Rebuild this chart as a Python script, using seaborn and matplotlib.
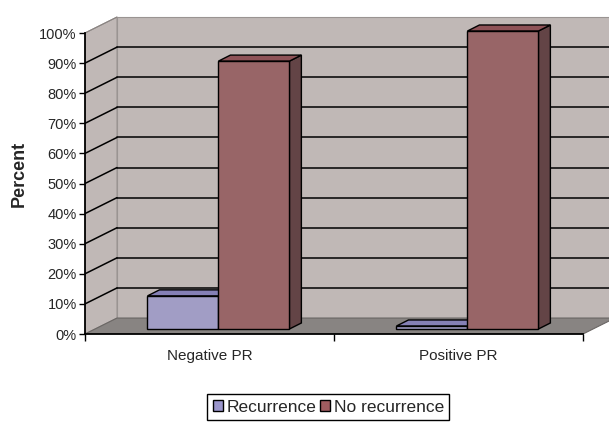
import matplotlib
matplotlib.use("Agg")
import matplotlib.pyplot as plt
import seaborn as sns
import pandas as pd
from matplotlib.patches import Polygon, Patch

# ---- data ----
categories = ["Negative PR", "Positive PR"]
series = ["Recurrence", "No recurrence"]
recurrence = [11, 1]
no_recurrence = [89, 99]
y_ticks = [0, 10, 20, 30, 40, 50, 60, 70, 80, 90, 100]
y_tick_labels = [f"{v}%" for v in y_ticks]

df = pd.DataFrame({
    "PR": categories * 2,
    "Outcome": [series[0]] * 2 + [series[1]] * 2,
    "Percent": recurrence + no_recurrence,
})

front_colors = {"Recurrence": "#9B96CC", "No recurrence": "#A05C60"}
top_colors = {"Recurrence": "#8580B6", "No recurrence": "#8E5257"}
side_colors = {"Recurrence": "#6E6A96", "No recurrence": "#634446"}

sns.set_theme(style="white")
plt.rcParams["font.family"] = ["Liberation Sans", "DejaVu Sans"]

fig = plt.figure(figsize=(6.09, 4.26), dpi=100)
ax = fig.add_axes([85 / 609, 1 - 334 / 426, 1 - 85 / 609, 320 / 426])

# depth geometry (data units)
wdx, wdy = 0.1285, 5.3      # wall depth
ox, oy = 0.036, 1.66        # bar front offset
bdx, bdy = 0.048, 2.0       # bar depth

wall_c = "#C0B8B6"
floor_c = "#888482"
# back wall
ax.add_patch(Polygon([(-0.5 + wdx, wdy), (1.5 + wdx, wdy), (1.5 + wdx, 100 + wdy), (-0.5 + wdx, 100 + wdy)],
                     closed=True, facecolor=wall_c, edgecolor="#9a9492", lw=0.8, zorder=0))
# left wall
ax.add_patch(Polygon([(-0.5, 0), (-0.5 + wdx, wdy), (-0.5 + wdx, 100 + wdy), (-0.5, 100)],
                     closed=True, facecolor=wall_c, edgecolor="#9a9492", lw=0.8, zorder=0))
# floor
ax.add_patch(Polygon([(-0.5, 0), (1.5, 0), (1.5 + wdx, wdy), (-0.5 + wdx, wdy)],
                     closed=True, facecolor=floor_c, edgecolor="#6a6664", lw=0.8, zorder=0.5))
# gridlines
for v in y_ticks[1:-1]:
    ax.plot([-0.5 + wdx, 1.5 + wdx], [v + wdy, v + wdy], color="black", lw=1.1, zorder=0.6)
    ax.plot([-0.5, -0.5 + wdx], [v, v + wdy], color="black", lw=1.1, zorder=0.6)
ax.plot([-0.5, -0.5 + wdx], [100, 100 + wdy], color="#8a8482", lw=0.8, zorder=0.6)

sns.barplot(data=df, x="PR", y="Percent", hue="Outcome", hue_order=series,
            palette=front_colors, width=0.57, edgecolor="black", linewidth=1.0,
            legend=False, ax=ax, zorder=2)

bars = [p for p in ax.patches if p.get_zorder() == 2]
for i, p in enumerate(bars):
    name = series[i // len(categories)]
    p.set_x(p.get_x() + ox)
    p.set_y(oy)
    x0, w, h = p.get_x(), p.get_width(), p.get_height()
    y0 = oy
    top = [(x0, y0 + h), (x0 + w, y0 + h), (x0 + w + bdx, y0 + h + bdy), (x0 + bdx, y0 + h + bdy)]
    side = [(x0 + w, y0), (x0 + w + bdx, y0 + bdy), (x0 + w + bdx, y0 + h + bdy), (x0 + w, y0 + h)]
    ax.add_patch(Polygon(side, closed=True, facecolor=side_colors[name], edgecolor="black", lw=1.0, zorder=1.5))
    ax.add_patch(Polygon(top, closed=True, facecolor=top_colors[name], edgecolor="black", lw=1.0, zorder=1.5))

ax.set_xlim(-0.5, -0.5 + 524 / 249)
ax.set_ylim(0, 320 / 3.01)

for s in ["top", "right"]:
    ax.spines[s].set_visible(False)
ax.spines["left"].set_bounds(0, 100)
ax.spines["bottom"].set_bounds(-0.5, 1.5)
for s in ["left", "bottom"]:
    ax.spines[s].set_color("black")
    ax.spines[s].set_linewidth(1.3)
    ax.spines[s].set_zorder(3)

ax.set_yticks(y_ticks)
ax.set_yticklabels(y_tick_labels, fontsize=10.5)
ax.set_xticks([0, 1])
ax.set_xticklabels(categories, fontsize=11)
ax.set_xticks([-0.5, 0.5, 1.5], minor=True)
ax.tick_params(axis="y", which="major", direction="out", length=4, width=1, color="black", pad=2, left=True)
ax.tick_params(axis="x", which="major", length=0, pad=11)
ax.tick_params(axis="x", which="minor", direction="out", length=5, width=1, color="black", bottom=True)
ax.set_xlabel("")
ax.set_ylabel("Percent", fontsize=13, fontweight="bold", labelpad=8)

handles = [Patch(facecolor=front_colors[s], edgecolor="black", lw=1.0, label=s) for s in series]
fig.legend(handles=handles, loc="lower center", bbox_to_anchor=(0.539, -0.006), ncol=2,
           fontsize=12.5, frameon=True, fancybox=False, edgecolor="black", framealpha=1,
           handlelength=0.6, handleheight=0.6, handletextpad=0.2, columnspacing=0.2,
           borderpad=0.3)

fig.savefig("out.png", dpi=100)
